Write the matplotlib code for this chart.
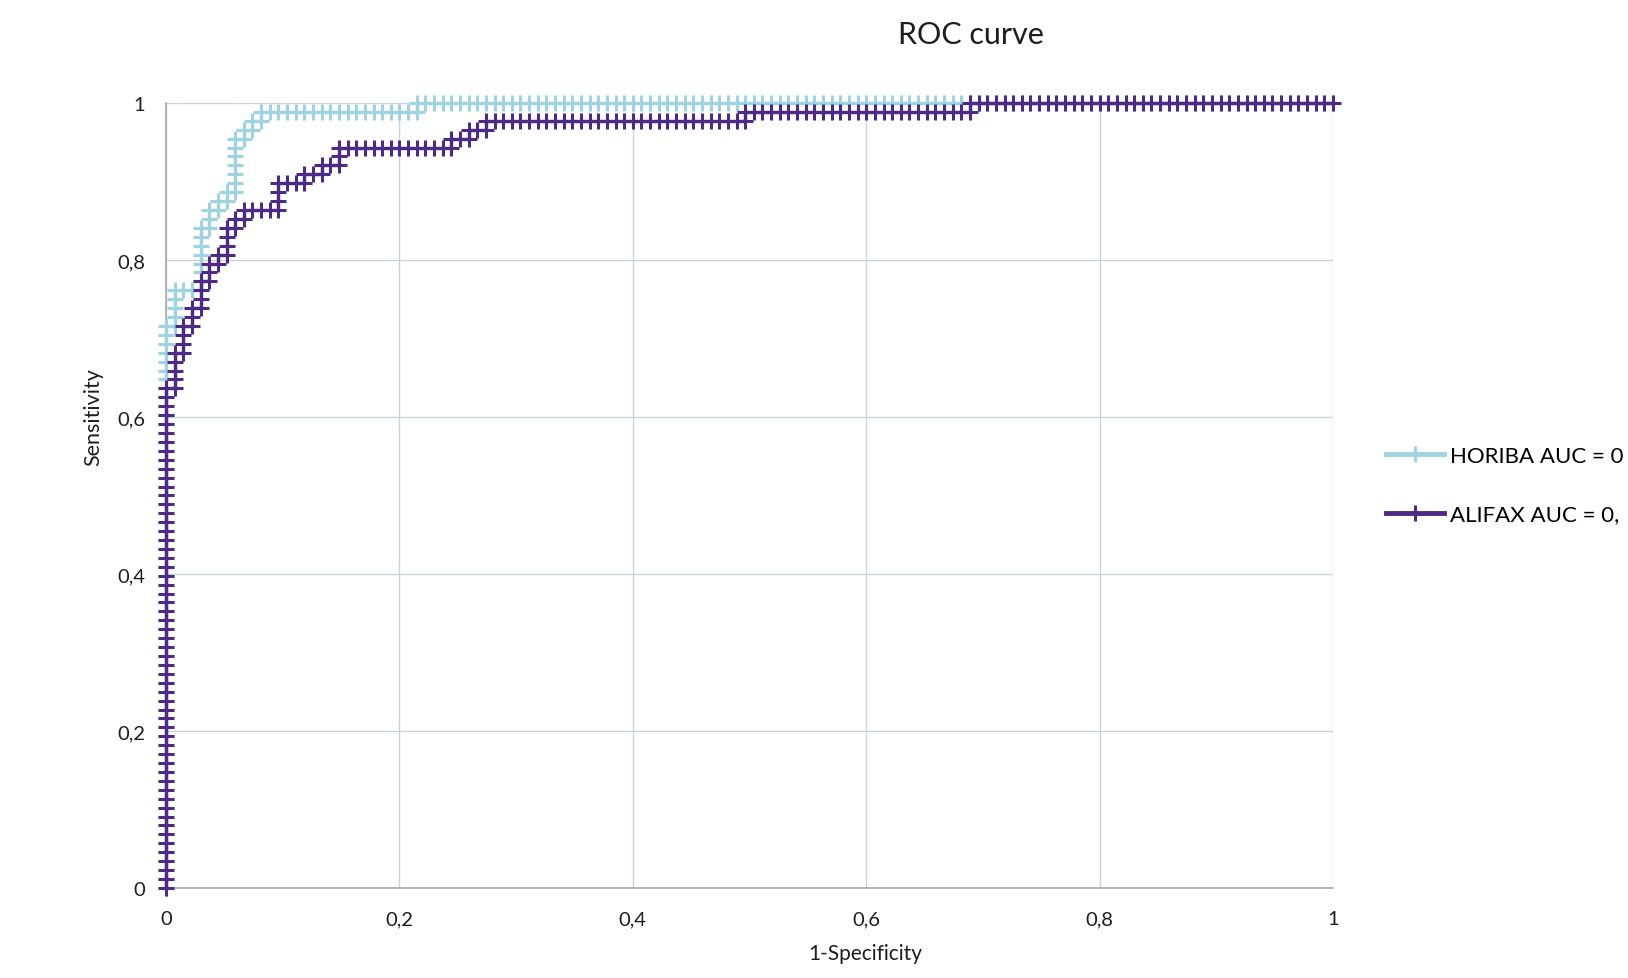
import numpy as np
import matplotlib.pyplot as plt

plt.rcParams['font.family'] = ['Lato', 'DejaVu Sans']

N_NEG = 135   # number of negatives -> one step right per false positive
N_POS = 88    # number of positives -> one step up per true positive

# ROC staircases: (steps right, then steps up)
horiba_runs = [(0, 63), (1, 4), (3, 7), (1, 2), (1, 1), (1, 1), (1, 6),
               (1, 1), (1, 1), (1, 1), (18, 1), (106, 0)]
alifax_runs = [(0, 56), (1, 4), (1, 3), (1, 2), (1, 3), (1, 2), (1, 1),
               (1, 3), (1, 1), (1, 1), (4, 3), (3, 1), (2, 1), (2, 2),
               (13, 1), (2, 1), (2, 1), (30, 1), (26, 1), (42, 0)]

labels = ['HORIBA AUC = 0', 'ALIFAX AUC = 0,']
colors = ['#9fd3e0', '#4d2b84']

ticks = [0, 0.2, 0.4, 0.6, 0.8, 1]
tick_labels = ['0', '0,2', '0,4', '0,6', '0,8', '1']


def roc_points(runs):
    fp, tp = [0], [0]
    for right, up in runs:
        for _ in range(right):
            fp.append(fp[-1] + 1)
            tp.append(tp[-1])
        for _ in range(up):
            fp.append(fp[-1])
            tp.append(tp[-1] + 1)
    return np.array(fp) / N_NEG, np.array(tp) / N_POS


fig = plt.figure(figsize=(16.28, 9.79), dpi=100)
ax = fig.add_axes([0.102, 0.092, 0.7168, 0.8018])

for runs, lab, col in zip([horiba_runs, alifax_runs], labels, colors):
    x, y = roc_points(runs)
    ax.plot(x, y, color=col, lw=2.4, marker='+', ms=11, mew=2.2,
            clip_on=False, label=lab, zorder=3)

ax.set_xlim(0, 1)
ax.set_ylim(0, 1)
ax.set_xticks(ticks)
ax.set_xticklabels(tick_labels)
ax.set_yticks(ticks)
ax.set_yticklabels(tick_labels)
ax.tick_params(length=0, labelsize=14.5, colors='#1e1e1e')
ax.tick_params(axis='y', pad=15)
ax.tick_params(axis='x', pad=16)
ax.grid(True, color='#c9d3dc', lw=1)
ax.set_axisbelow(True)
for s in ['top', 'right']:
    ax.spines[s].set_visible(False)
for s in ['left', 'bottom']:
    ax.spines[s].set_color('#a8a8a8')
    ax.spines[s].set_linewidth(1.2)

fig.text(971 / 1628, 1 - 35 / 979, 'ROC curve', ha='center', va='center',
         fontsize=22, color='#1e1e1e')
fig.text(865 / 1628, 1 - 954 / 979, '1-Specificity', ha='center', va='center',
         fontsize=15, color='#1e1e1e')
fig.text(93 / 1628, 1 - 417 / 979, 'Sensitivity', ha='center', va='center',
         rotation=90, fontsize=15.5, color='#1e1e1e')

leg = fig.legend(loc='center left', bbox_to_anchor=(1386 / 1628, 1 - 486 / 979),
                 frameon=False, fontsize=16, handlelength=2.6, handletextpad=0.3,
                 labelspacing=1.75, borderpad=0, borderaxespad=0)
for h in leg.legend_handles:
    h.set_linewidth(3.5)

fig.savefig('out.png', dpi=100)
